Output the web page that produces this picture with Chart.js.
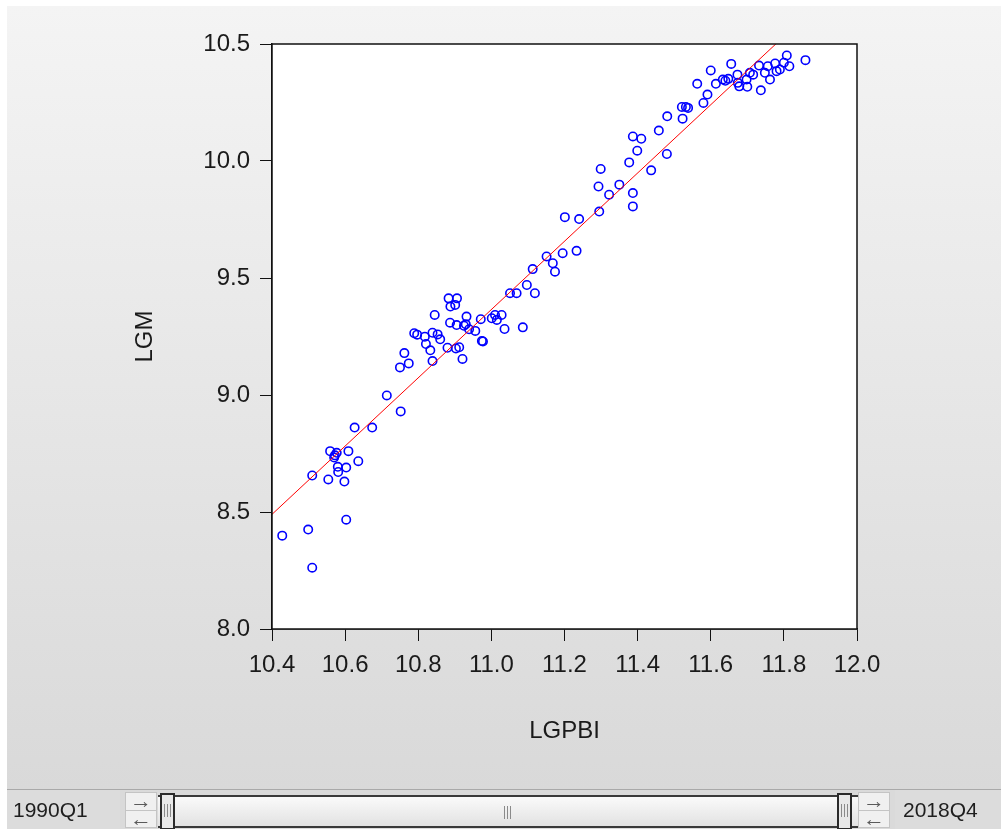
<!DOCTYPE html>
<html>
<head>
<meta charset="utf-8">
<script src="https://cdn.jsdelivr.net/npm/chart.js@4.4.1/dist/chart.umd.min.js"></script>
<style>
  html, body { margin: 0; padding: 0; background: #fff; }
  body { width: 1001px; height: 829px; position: relative; overflow: hidden; font-family: "Liberation Sans", Arial, sans-serif; }
  #panel { position: absolute; left: 7px; top: 6px; width: 994px; height: 783px;
           background: linear-gradient(#f4f4f4, #d9d9d9); }
  #bar { position: absolute; left: 7px; top: 789px; width: 994px; height: 40px; background: #dadada;
         border-top: 1px solid #a9a9a9; box-sizing: border-box; }
  .lbl { position: absolute; top: 0; height: 39px; line-height: 39px; font-size: 21px; color: #1e1e1e; background: #dcdcdc; }
  .arr { position: absolute; top: 2px; width: 32px; height: 36px; background: #f0f0f0; border: 1px solid #c4c4c4; box-sizing: border-box; }
  .arr div { height: 17px; line-height: 16px; font-size: 22px; color: #5a5a5a; text-align: center; }
  .arr div + div { border-top: 1px solid #c4c4c4; }
  #track { position: absolute; left: 151px; top: 5px; width: 700px; height: 33px; box-sizing: border-box;
           border-top: 2px solid #3a3a3a; border-bottom: 2px solid #3a3a3a;
           background: linear-gradient(#fafafa, #e2e2e2); }
  .hdl { position: absolute; top: -4px; width: 15px; height: 37px; border: 2px solid #2a2a2a; box-sizing: border-box; background: #e8e8e8; }
  .grip { position: absolute; top: 9px; width: 7px; height: 13px;
          background: repeating-linear-gradient(90deg, #8a8a8a 0 1px, transparent 1px 3px); }
</style>
</head>
<body>
<div id="panel"><canvas id="scatter" width="994" height="783"></canvas></div>
<div id="bar">
  <div class="lbl" style="left:0;width:113px;padding-left:6px;box-sizing:border-box;">1990Q1</div>
  <div class="arr" style="left:118px;"><div>&rarr;</div><div>&larr;</div></div>
  <div id="track">
    <div class="hdl" style="left:2px;"><div class="grip" style="left:2px;"></div></div>
    <div class="grip" style="left:346px;"></div>
    <div class="hdl" style="left:679px;"><div class="grip" style="left:2px;"></div></div>
  </div>
  <div class="arr" style="left:851px;"><div>&rarr;</div><div>&larr;</div></div>
  <div class="lbl" style="left:888px;width:106px;padding-left:8px;box-sizing:border-box;">2018Q4</div>
</div>
<script>
// LGPBI (x) and LGM (y), 1990Q1 - 2018Q4
const lgpbi = [
  10.428, 10.499, 10.510, 10.603, 10.510, 10.554, 10.598, 10.581, 10.559, 10.577,
  10.609, 10.570, 10.636, 10.603, 10.580, 10.626, 10.674, 10.752, 10.714, 10.750,
  10.774, 10.762, 10.839, 10.845, 10.789, 10.797, 10.818, 10.821, 10.833, 10.839,
  10.853, 10.860, 10.880, 10.883, 10.906, 10.888, 10.901, 10.887, 10.905, 10.903,
  10.912, 10.921, 10.932, 10.930, 10.939, 10.956, 10.971, 10.974, 10.977, 11.001,
  11.010, 11.015, 11.028, 11.036, 11.086, 11.051, 11.069, 11.097, 11.119, 11.113,
  11.151, 11.168, 11.174, 11.195, 11.233, 11.201, 11.240, 11.295, 11.293, 11.350,
  11.322, 11.387, 11.387, 11.299, 11.377, 11.399, 11.387, 11.410, 11.437, 11.458,
  11.480, 11.481, 11.523, 11.521, 11.532, 11.538, 11.580, 11.591, 11.563, 11.600,
  11.614, 11.633, 11.648, 11.656, 11.673, 11.678, 11.674, 11.700, 11.698, 11.707,
  11.716, 11.732, 11.737, 11.748, 11.762, 11.756, 11.776, 11.780, 11.789, 11.800,
  11.808, 11.815, 11.859, 10.572, 10.925, 11.640
];
const lgm = [
  8.399, 8.425, 8.262, 8.467, 8.656, 8.639, 8.630, 8.671, 8.760, 8.753,
  8.760, 8.733, 8.717, 8.690, 8.693, 8.861, 8.861, 8.930, 8.998, 9.118,
  9.135, 9.179, 9.145, 9.342, 9.264, 9.258, 9.249, 9.218, 9.191, 9.266,
  9.259, 9.238, 9.202, 9.413, 9.413, 9.378, 9.385, 9.309, 9.299, 9.199,
  9.204, 9.154, 9.335, 9.302, 9.281, 9.274, 9.324, 9.231, 9.229, 9.328,
  9.342, 9.321, 9.342, 9.282, 9.289, 9.435, 9.435, 9.470, 9.435, 9.538,
  9.592, 9.563, 9.527, 9.606, 9.616, 9.760, 9.752, 9.784, 9.891, 9.899,
  9.856, 9.863, 9.806, 9.966, 9.994, 10.044, 10.105, 10.095, 9.960, 10.130,
  10.030, 10.191, 10.181, 10.231, 10.231, 10.227, 10.248, 10.284, 10.330, 10.387,
  10.330, 10.348, 10.351, 10.415, 10.369, 10.319, 10.334, 10.317, 10.348, 10.377,
  10.369, 10.408, 10.302, 10.377, 10.348, 10.405, 10.417, 10.384, 10.391, 10.420,
  10.451, 10.405, 10.431, 8.742, 9.296, 10.343
];
// fitted regression line, read at the two ends of the x range
const fitX = [10.4, 12.0];
const fitY = [8.49, 10.824];

const xTicks = [10.4, 10.6, 10.8, 11.0, 11.2, 11.4, 11.6, 11.8, 12.0];
const yTicks = [8.0, 8.5, 9.0, 9.5, 10.0, 10.5];

const txt = { family: '"Liberation Sans", Arial, sans-serif', size: 24 };

const plotFrame = {
    id: 'plotFrame',
    beforeDatasetsDraw(chart) {
        const { ctx, chartArea: a } = chart;
        ctx.save();
        ctx.fillStyle = '#ffffff';
        ctx.fillRect(a.left, a.top, a.right - a.left, a.bottom - a.top);
        ctx.restore();
    },
    afterDatasetsDraw(chart) {
        const { ctx, chartArea: a } = chart;
        ctx.save();
        ctx.strokeStyle = '#111';
        ctx.lineWidth = 1.5;
        ctx.strokeRect(a.left, a.top, a.right - a.left, a.bottom - a.top);
        ctx.restore();
    }
};

(function () {
    const ctx = document.getElementById('scatter');
    new Chart(ctx, {
        type: 'scatter',
        data: {
            datasets: [{
                label: 'LGM',
                data: lgpbi.map((x, i) => ({ x: x, y: lgm[i] })),
                pointStyle: 'circle',
                pointRadius: 4.2,
                pointBorderWidth: 1.6,
                borderColor: '#0000ff',
                backgroundColor: 'rgba(0,0,0,0)',
                order: 1,
            },
            {
                type: 'line',
                label: 'fit',
                data: fitX.map((x, i) => ({ x: x, y: fitY[i] })),
                borderColor: '#ff0000',
                borderWidth: 1,
                pointRadius: 0,
                order: 0,
            }]
        },
        options: {
            responsive: false,
            animation: false,
            devicePixelRatio: 1,
            layout: { padding: { top: 38, right: 144, left: 0, bottom: 0 } },
            plugins: {
                legend: { display: false },
                tooltip: { enabled: false },
            },
            scales: {
                x: {
                    type: 'linear',
                    min: 10.4,
                    max: 12.0,
                    afterBuildTicks: (s) => { s.ticks = xTicks.map(v => ({ value: v })); },
                    afterFit: (s) => { s.height = 160; },
                    ticks: { color: '#1a1a1a', font: txt, padding: 10, maxRotation: 0, callback: v => v.toFixed(1) },
                    grid: { drawOnChartArea: false, tickLength: 12, color: '#111' },
                    border: { color: '#111', width: 1.5 },
                    title: { display: true, text: 'LGPBI', color: '#1a1a1a', font: txt, padding: { bottom: 43 } },
                },
                y: {
                    type: 'linear',
                    min: 8.0,
                    max: 10.5,
                    afterBuildTicks: (s) => { s.ticks = yTicks.map(v => ({ value: v })); },
                    afterFit: (s) => { s.width = 265; },
                    ticks: { color: '#1a1a1a', font: txt, padding: 10, callback: v => v.toFixed(1) },
                    grid: { drawOnChartArea: false, tickLength: 12, color: '#111' },
                    border: { color: '#111', width: 1.5 },
                    title: { display: true, text: 'LGM', color: '#1a1a1a', font: txt, padding: { top: 124 } },
                }
            }
        },
        plugins: [plotFrame]
    });
})();
</script>
</body>
</html>
